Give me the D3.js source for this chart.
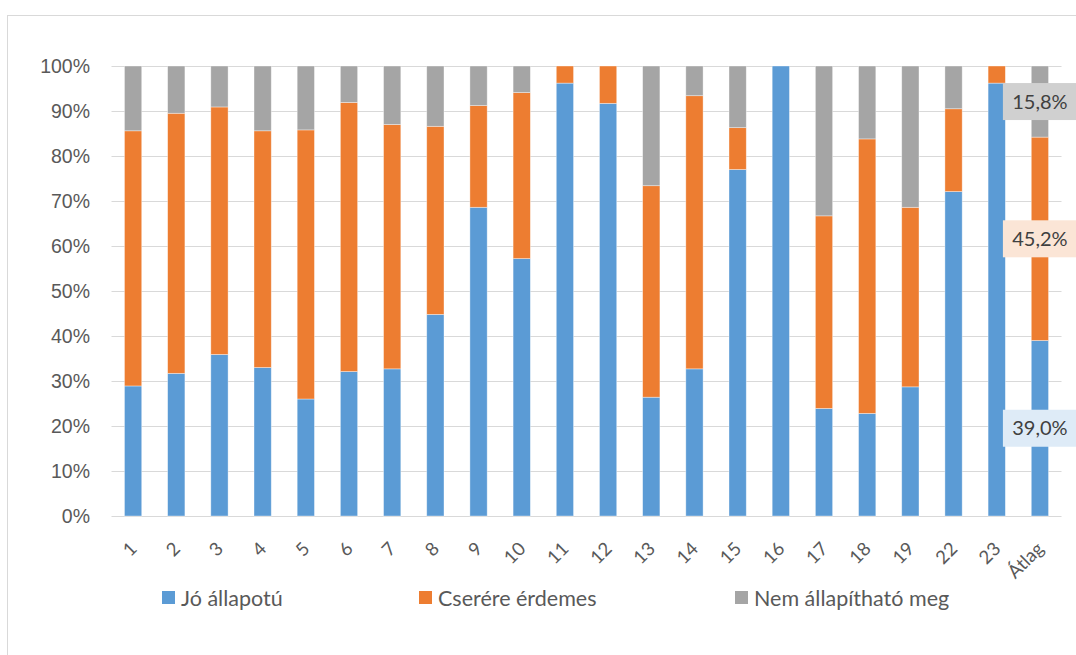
<!DOCTYPE html>
<html>
<head>
<meta charset="utf-8">
<script src="https://cdn.jsdelivr.net/npm/d3@7"></script>
<style>
  html, body { margin: 0; padding: 0; background: #fff; }
  svg { display: block; font-family: Lato, "Open Sans", sans-serif; }
</style>
</head>
<body>
<svg id="chart" width="1076" height="655"></svg>
<script>
// Categories along the x axis
const categories = ["1","2","3","4","5","6","7","8","9","10","11","12","13","14","15","16","17","18","19","22","23","Átlag"];

// Share (%) per category for each condition group
const joAllapotu = [28.9, 31.7, 35.9, 33.0, 26.0, 32.1, 32.7, 44.8, 68.6, 57.2, 96.2, 91.7, 26.4, 32.7, 77.0, 100, 23.9, 22.8, 28.7, 72.1, 96.2, 39.0];
const csereErdemes = [56.7, 57.8, 55.0, 52.6, 59.8, 59.8, 54.3, 41.8, 22.6, 36.9, 3.8, 8.3, 47.0, 60.7, 9.3, 0, 42.8, 61.0, 39.9, 18.4, 3.8, 45.2];
const nemAllapithato = [14.4, 10.5, 9.1, 14.4, 14.2, 8.1, 13.0, 13.4, 8.8, 5.9, 0, 0, 26.6, 6.6, 13.7, 0, 33.3, 16.2, 31.4, 9.5, 0, 15.8];

const seriesNames = ["Jó állapotú", "Cserére érdemes", "Nem állapítható meg"];
const seriesColors = ["#5b9bd5", "#ed7d31", "#a5a5a5"];
const labelFills = ["#deebf7", "#fbe5d6", "#d0d0d0"];
const yTicks = [0, 10, 20, 30, 40, 50, 60, 70, 80, 90, 100];

const rows = categories.map((c, i) => ({
  cat: c,
  s0: joAllapotu[i],
  s1: csereErdemes[i],
  s2: nemAllapithato[i]
}));

const svg = d3.select("#chart");

// Chart frame
svg.append("rect")
  .attr("x", 7.5).attr("y", 15.5)
  .attr("width", 1100).attr("height", 700)
  .attr("fill", "none").attr("stroke", "#d9d9d9").attr("stroke-width", 1);

const x = d3.scaleBand()
  .domain(categories)
  .range([111.5, 1061.5])
  .paddingInner(0.6)
  .paddingOuter(0.3);

const y = d3.scaleLinear().domain([0, 100]).range([516, 66]);

// Gridlines
svg.append("g")
  .selectAll("line")
  .data(yTicks)
  .join("line")
  .attr("x1", 111.5).attr("x2", 1061.5)
  .attr("y1", d => Math.round(y(d)) + 0.5)
  .attr("y2", d => Math.round(y(d)) + 0.5)
  .attr("stroke", "#d9d9d9").attr("stroke-width", 1.2);

// Y axis labels
const yAxis = d3.axisLeft(y).tickValues(yTicks).tickFormat(d => d + "%").tickSize(0).tickPadding(0);
const yg = svg.append("g").attr("transform", "translate(90,0)").call(yAxis);
yg.select(".domain").remove();
yg.selectAll("text")
  .attr("fill", "#595959")
  .style("font-size", "19.5px")
  .attr("dy", "0.35em");

// Stacked bars
const keys = ["s0", "s1", "s2"];
const stacked = d3.stack().keys(keys)(rows);

svg.append("g")
  .selectAll("g")
  .data(stacked)
  .join("g")
  .attr("fill", (d, i) => seriesColors[i])
  .selectAll("rect")
  .data(d => d.filter(p => p[1] - p[0] > 0))
  .join("rect")
  .attr("x", p => x(p.data.cat))
  .attr("width", x.bandwidth())
  .attr("y", p => y(p[1]))
  .attr("height", p => y(p[0]) - y(p[1]))
  .attr("stroke", "#ffffff")
  .attr("stroke-opacity", 0.5)
  .attr("stroke-width", 0.75);

// X axis labels, rotated
const xg = svg.append("g").attr("transform", "translate(0,516)");
xg.selectAll("text")
  .data(categories)
  .join("text")
  .attr("transform", d => `translate(${x(d) + x.bandwidth() / 2 + 5},${34}) rotate(-45)`)
  .attr("text-anchor", "end")
  .attr("fill", "#595959")
  .style("font-size", "18.5px")
  .text(d => d);

// Value labels for the average bar
const avgRow = rows[rows.length - 1];
const avgStack = stacked.map(s => s[s.length - 1]);
const avgLabels = svg.append("g");
avgStack.forEach((p, i) => {
  const cx = x(avgRow.cat) + x.bandwidth() / 2;
  const cy = y((p[0] + p[1]) / 2);
  const val = p[1] - p[0];
  avgLabels.append("rect")
    .attr("x", cx - 37).attr("y", cy - 18.5)
    .attr("width", 74).attr("height", 37)
    .attr("fill", labelFills[i]);
  avgLabels.append("text")
    .attr("x", cx).attr("y", cy)
    .attr("dy", "0.36em")
    .attr("text-anchor", "middle")
    .attr("fill", "#404040")
    .style("font-size", "20px")
    .text(val.toFixed(1).replace(".", ",") + "%");
});

// Legend
const legendX = [162, 419, 735];
const legend = svg.append("g");
seriesNames.forEach((name, i) => {
  legend.append("rect")
    .attr("x", legendX[i]).attr("y", 591)
    .attr("width", 13).attr("height", 13)
    .attr("fill", seriesColors[i]);
  legend.append("text")
    .attr("x", legendX[i] + 19).attr("y", 598)
    .attr("dy", "0.36em")
    .attr("fill", "#595959")
    .style("font-size", "21.5px")
    .text(name);
});
</script>
</body>
</html>
